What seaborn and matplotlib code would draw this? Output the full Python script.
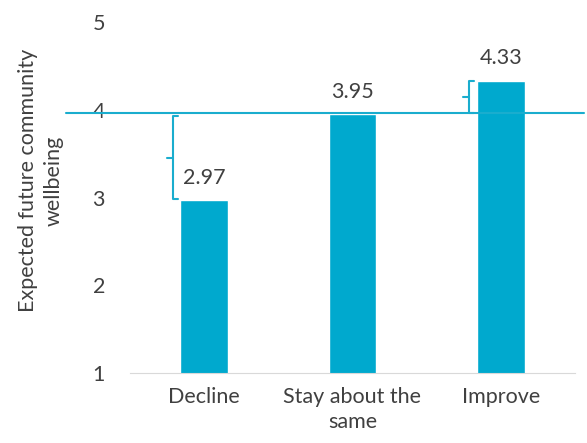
import matplotlib
matplotlib.use("Agg")
import matplotlib.pyplot as plt
import seaborn as sns
import pandas as pd

categories = ["Decline", "Stay about the\nsame", "Improve"]
values = [2.97, 3.95, 4.33]
reference_value = 3.96
yticks = [1, 2, 3, 4, 5]
ylabel = "Expected future community\nwellbeing"

sns.set_style("white")
plt.rcParams['font.family'] = ['Lato', 'DejaVu Sans']

BAR = "#00A9CE"
LINE = "#1AADCE"
TXT = "#404040"
FS = 15.5

df = pd.DataFrame({"cat": categories, "val": values})

fig = plt.figure(figsize=(5.87, 4.43), dpi=100)
ax = fig.add_axes([0.2215, 0.158, 0.758, 0.792])
sns.barplot(data=df, x="cat", y="val", color=BAR, width=0.32, ax=ax, saturation=1)

ax.set_ylim(1, 5)
ax.set_xlim(-0.5, 2.5)
ax.set_yticks(yticks)
ax.set_xlabel("")
ax.set_ylabel(ylabel, fontsize=FS, color=TXT, linespacing=1.35)
ax.yaxis.set_label_coords(-0.15, 0.548)
ax.tick_params(axis="both", length=0, labelsize=FS, colors=TXT)
ax.tick_params(axis="y", pad=18)
ax.tick_params(axis="x", pad=10)
for s in ["top", "right", "left"]:
    ax.spines[s].set_visible(False)
ax.spines["bottom"].set_color("#D9D9D9")
for t in ax.get_xticklabels():
    t.set_linespacing(1.3)

for i, v in enumerate(values):
    ax.annotate(f"{v:.2f}", (i, v), xytext=(0, 9), textcoords="offset points",
                ha="center", va="bottom", fontsize=FS, color=TXT)

# reference line extends beyond the axes
trans = ax.get_yaxis_transform()
ax.plot([-0.145, 1.02], [reference_value, reference_value], transform=trans,
        color=LINE, lw=1.5, clip_on=False, zorder=5)

# braces
def brace(x, y0, y1):
    hook = 0.035
    tick = 0.04
    ym = (y0 + y1) / 2
    ax.plot([x + hook, x, x, x + hook], [y0, y0, y1, y1], color=LINE, lw=1.5, zorder=4)
    ax.plot([x - tick, x], [ym, ym], color=LINE, lw=1.5, zorder=4)

brace(0 - 0.21, values[0] + 0.01, reference_value - 0.03)
brace(2 - 0.215, reference_value, values[2])

fig.savefig("out.png", dpi=100)
